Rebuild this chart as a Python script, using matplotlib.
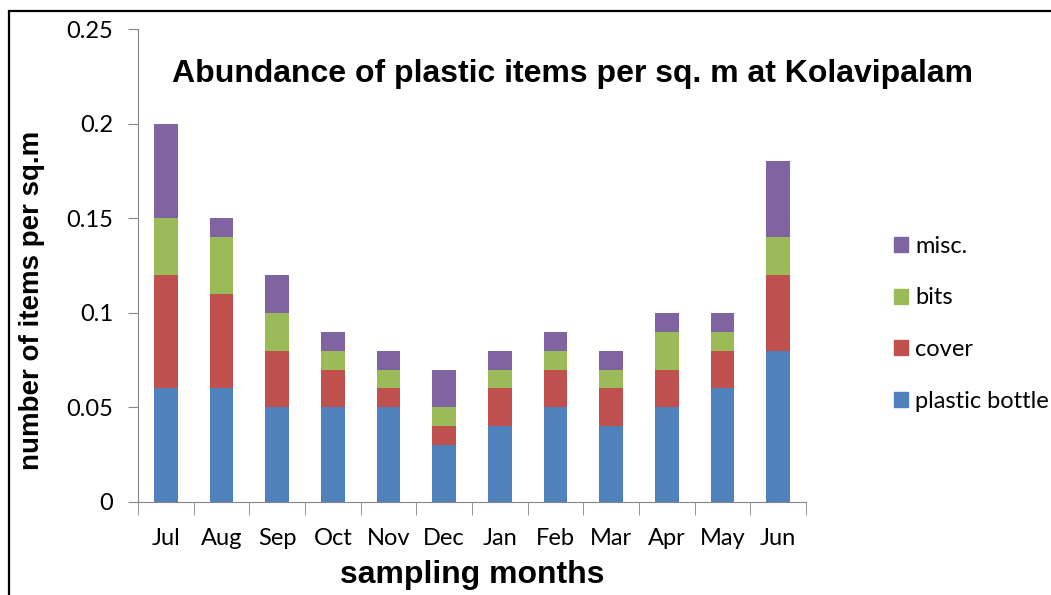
import numpy as np
import matplotlib.pyplot as plt
from matplotlib.patches import Rectangle, Patch

months = ['Jul', 'Aug', 'Sep', 'Oct', 'Nov', 'Dec', 'Jan', 'Feb', 'Mar', 'Apr', 'May', 'Jun']
plastic_bottle = [0.06, 0.06, 0.05, 0.05, 0.05, 0.03, 0.04, 0.05, 0.04, 0.05, 0.06, 0.08]
cover = [0.06, 0.05, 0.03, 0.02, 0.01, 0.01, 0.02, 0.02, 0.02, 0.02, 0.02, 0.04]
bits = [0.03, 0.03, 0.02, 0.01, 0.01, 0.01, 0.01, 0.01, 0.01, 0.02, 0.01, 0.02]
misc = [0.05, 0.01, 0.02, 0.01, 0.01, 0.02, 0.01, 0.01, 0.01, 0.01, 0.01, 0.04]

series = [('plastic bottle', plastic_bottle, '#4F81BD'),
          ('cover', cover, '#C0504D'),
          ('bits', bits, '#9BBB59'),
          ('misc.', misc, '#8064A2')]

AXIS_COLOR = '#868686'
TICK_FONT = 'Lato'

fig = plt.figure(figsize=(10.51, 5.95), dpi=100)
ax = fig.add_axes([138 / 1051, 1 - 502 / 595, 668 / 1051, 473 / 595])

x = np.arange(len(months))
bottom = np.zeros(len(months))
for name, vals, color in series:
    ax.bar(x, vals, width=0.42, bottom=bottom, color=color, label=name)
    bottom += np.array(vals)

ax.set_xlim(-0.5, len(months) - 0.5)
ax.set_ylim(0, 0.25)
ax.set_yticks([0, 0.05, 0.1, 0.15, 0.2, 0.25])
ax.set_yticklabels(['0', '0.05', '0.1', '0.15', '0.2', '0.25'], fontfamily=TICK_FONT, fontsize=17)
ax.set_xticks(x)
ax.set_xticklabels(months, fontfamily=TICK_FONT, fontsize=17)
ax.tick_params(axis='x', length=0, pad=19)
ax.tick_params(axis='y', length=7, color=AXIS_COLOR, pad=11)
# category separators on x axis
ax.set_xticks(np.arange(-0.5, len(months)), minor=True)
ax.tick_params(axis='x', which='minor', length=9, color=AXIS_COLOR)

for side in ['top', 'right']:
    ax.spines[side].set_visible(False)
for side in ['left', 'bottom']:
    ax.spines[side].set_color(AXIS_COLOR)

ax.set_xlabel('sampling months', fontfamily='Liberation Sans', fontweight='bold', fontsize=23, labelpad=8)
ax.set_ylabel('number of items per sq.m', fontfamily='Liberation Sans', fontweight='bold', fontsize=20,
              va='center')
ax.yaxis.set_label_coords((32 - 138) / 668, (502 - 300) / 473)

fig.text(572 / 1051, 1 - 74 / 595, 'Abundance of plastic items per sq. m at Kolavipalam',
         fontfamily='Liberation Sans', fontweight='bold', fontsize=23, ha='center', va='center')

handles = [Patch(color=c, label=n) for n, _, c in series[::-1]]
leg = fig.legend(handles=handles, loc='upper left', bbox_to_anchor=(882 / 1051, 1 - 224 / 595),
                 frameon=False, prop={'family': TICK_FONT, 'size': 17},
                 handlelength=0.6, handleheight=0.6, handletextpad=0.3, labelspacing=1.3,
                 borderpad=0)

# chart border
fig.patches.append(Rectangle((9 / 1051, -0.1), 1.2, 1.1 - 11 / 595, transform=fig.transFigure,
                             fill=False, edgecolor='black', linewidth=1.6))

fig.savefig('out.png', dpi=100)
